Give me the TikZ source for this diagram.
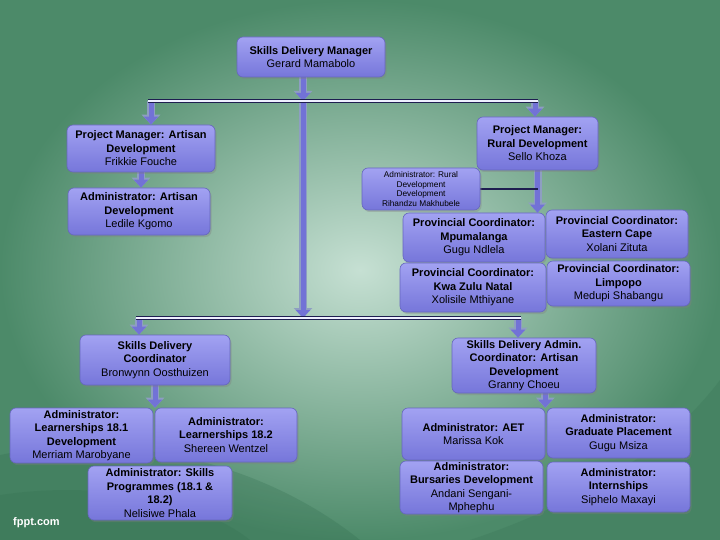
\documentclass[tikz,border=0pt]{standalone}
\usepackage{fontspec}
\setmainfont{Liberation Sans}
\usetikzlibrary{arrows.meta,shadows}
\definecolor{boxtop}{HTML}{A2A2F2}
\definecolor{boxbot}{HTML}{7676DA}
\definecolor{boxline}{HTML}{6666BE}
\definecolor{arrcol}{HTML}{7272D6}
\definecolor{arrhalo}{HTML}{8E9EC2}
\definecolor{busline}{HTML}{1E1E50}
\definecolor{busfill}{HTML}{EEF0FF}
\definecolor{bgin}{HTML}{C6E0D3}
\definecolor{bgout}{HTML}{4C8A69}
\definecolor{bgdark}{HTML}{2F6A4C}
\pgfdeclarelayer{backdrop}
\pgfdeclarelayer{conn}
\pgfsetlayers{backdrop,conn,main}
\begin{document}
\begin{tikzpicture}[x=1pt,y=-1pt,
  box/.style={draw=boxline, line width=0.6pt, rounded corners=6pt,
    top color=boxtop, bottom color=boxbot, align=center, inner sep=1pt,
    font=\fontsize{11}{13.5}\selectfont,
    drop shadow={opacity=0.35, shadow xshift=1.5pt, shadow yshift=-2pt}},
  smallbox/.style={box, font=\fontsize{8.3}{9.6}\selectfont},
  arr/.style={draw=arrcol, line width=5pt, -{Triangle[width=14pt,length=8pt]},
    preaction={draw=arrhalo, line width=8pt, -{Triangle[width=18pt,length=10pt]}}},
  link/.style={draw=busline, line width=1.3pt},
  bus/.style={draw=busline, line width=1pt, double=busfill, double distance=2.5pt}]
\useasboundingbox (0,0) rectangle (720,540);
\begin{pgfonlayer}{backdrop}
\shade[inner color=bgin, outer color=bgout] (0,0) rectangle (720,540);
\fill[bgdark, opacity=0.25] (0,540) -- (0,455) .. controls (120,430) and (260,460) .. (360,540) -- cycle;
\fill[bgdark, opacity=0.2] (0,540) -- (0,495) .. controls (100,480) and (200,500) .. (250,540) -- cycle;
\fill[bgdark, opacity=0.2] (720,540) -- (720,380) .. controls (660,460) and (560,510) .. (470,540) -- cycle;
\end{pgfonlayer}

% boxes
\node[box, minimum width=148, minimum height=40] (mgr) at (311,57)
  {\textbf{Skills Delivery Manager}\\Gerard Mamabolo};
\node[box, minimum width=148, minimum height=47] (pma) at (141,148.5)
  {\textbf{Project Manager: Artisan}\\\textbf{Development}\\Frikkie Fouche};
\node[box, minimum width=142, minimum height=47] (aa) at (139,211.5)
  {\textbf{Administrator: Artisan}\\\textbf{Development}\\Ledile Kgomo};
\node[box, minimum width=121, minimum height=53] (pmr) at (537.5,143.5)
  {\textbf{Project Manager:}\\\textbf{Rural Development}\\Sello Khoza};
\node[smallbox, minimum width=118, minimum height=42] (ar) at (421,189)
  {Administrator: Rural\\Development\\Development\\Rihandzu Makhubele};
\node[box, minimum width=142, minimum height=49] (mpu) at (474,237.5)
  {\textbf{Provincial Coordinator:}\\\textbf{Mpumalanga}\\Gugu Ndlela};
\node[box, minimum width=142, minimum height=48] (ec) at (617,234)
  {\textbf{Provincial Coordinator:}\\\textbf{Eastern Cape}\\Xolani Zituta};
\node[box, minimum width=146, minimum height=49] (kzn) at (473,287.5)
  {\textbf{Provincial Coordinator:}\\\textbf{Kwa Zulu Natal}\\Xolisile Mthiyane};
\node[box, minimum width=143, minimum height=45] (lim) at (618.5,283.5)
  {\textbf{Provincial Coordinator:}\\\textbf{Limpopo}\\Medupi Shabangu};
\node[box, minimum width=150, minimum height=50] (sdc) at (155,360)
  {\textbf{Skills Delivery}\\\textbf{Coordinator}\\Bronwynn Oosthuizen};
\node[box, minimum width=144, minimum height=55] (sdac) at (524,365.5)
  {\textbf{Skills Delivery Admin.}\\\textbf{Coordinator: Artisan}\\\textbf{Development}\\Granny Choeu};
\node[box, minimum width=143, minimum height=55] (l181) at (81.5,435.5)
  {\textbf{Administrator:}\\\textbf{Learnerships 18.1}\\\textbf{Development}\\Merriam Marobyane};
\node[box, minimum width=142, minimum height=54] (l182) at (226,435)
  {\textbf{Administrator:}\\\textbf{Learnerships 18.2}\\Shereen Wentzel};
\node[box, minimum width=144, minimum height=54] (sp) at (160,493)
  {\textbf{Administrator: Skills}\\\textbf{Programmes (18.1 \&}\\\textbf{18.2)}\\Nelisiwe Phala};
\node[box, minimum width=143, minimum height=52] (aet) at (473.5,434)
  {\textbf{Administrator: AET}\\Marissa Kok};
\node[box, minimum width=143, minimum height=50] (gp) at (618.5,433)
  {\textbf{Administrator:}\\\textbf{Graduate Placement}\\Gugu Msiza};
\node[box, minimum width=143, minimum height=53] (bur) at (471.5,487.5)
  {\textbf{Administrator:}\\\textbf{Bursaries Development}\\Andani Sengani-\\Mphephu};
\node[box, minimum width=143, minimum height=50] (int) at (618.5,487)
  {\textbf{Administrator:}\\\textbf{Internships}\\Siphelo Maxayi};

\node[anchor=west, text=white, inner sep=0pt, font=\bfseries\fontsize{11}{13}\selectfont] (fppt) at (13,523) {fppt.com};

% bus points
\coordinate (b1l) at (151,101);
\coordinate (b1m) at (303,101);
\coordinate (b1r) at (535,101);
\coordinate (b2l) at (139,318);
\coordinate (b2m) at (303,318);
\coordinate (b2r) at (518,318);

\begin{pgfonlayer}{conn}
\draw[arr] (mgr.south -| b1m) -- (b1m);
\draw[arr] (b1l) -- (b1l |- pma.north);
\draw[arr] (b1r) -- (b1r |- pmr.north);
\draw[arr] (b1m) -- (b2m);
\draw[arr] (pma.south) -- (pma.south |- aa.north);
\draw[arr] (pmr.south) -- (pmr.south |- mpu.north);
\draw[link] (ar.east) -- (ar.east -| pmr.south);
\draw[arr] (b2l) -- (b2l |- sdc.north);
\draw[arr] (b2r) -- (b2r |- sdac.north);
\draw[arr] (sdc.south) -- (sdc.south |- l181.north);
\draw[arr] (sdac.south -| aet.north east) -- (aet.north east);
\draw[bus] ([xshift=-3pt]b1l) -- ([xshift=3pt]b1r);
\draw[bus] ([xshift=-3pt]b2l) -- ([xshift=3pt]b2r);
\end{pgfonlayer}
\end{tikzpicture}
\end{document}
